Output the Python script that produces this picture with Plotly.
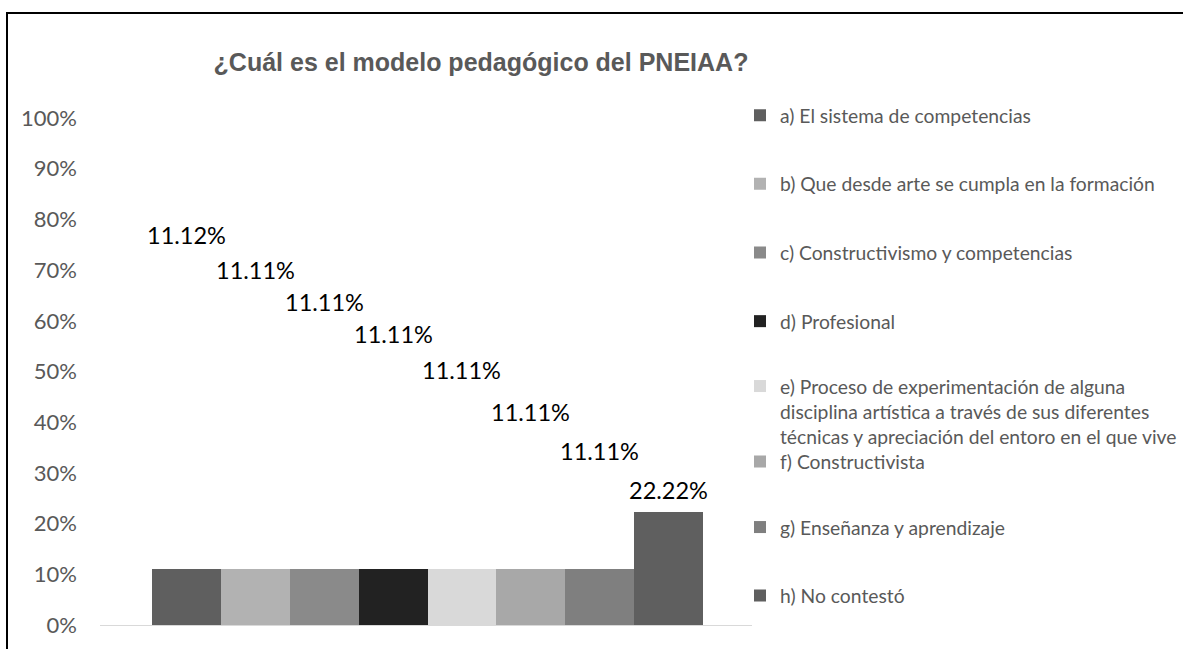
import plotly.graph_objects as go

# ---- data ----
categories = [
    "a) El sistema de competencias",
    "b) Que desde arte se cumpla en la formación",
    "c) Constructivismo y competencias",
    "d) Profesional",
    "e) Proceso de experimentación de alguna<br>disciplina artística a través de sus diferentes<br>técnicas y apreciación del entoro en el que vive",
    "f) Constructivista",
    "g) Enseñanza y aprendizaje",
    "h) No contestó",
]
values = [11.12, 11.11, 11.11, 11.11, 11.11, 11.11, 11.11, 22.22]
y_ticks = [0, 10, 20, 30, 40, 50, 60, 70, 80, 90, 100]

# ---- styling / positions ----
colors = ["#5f5f5f", "#b2b2b2", "#8a8a8a", "#222222", "#d9d9d9", "#a8a8a8", "#7f7f7f", "#5f5f5f"]
label_y = [76.9, 70.0, 63.7, 57.4, 50.3, 42.0, 34.3, 26.6]   # data-label heights (%), as placed in the original
legend_py = [115.7, 184.3, 253, 321.6, 382, 462, 527.5, 596]  # legend item centres in px

W, H = 1183, 649
L, R, T, B = 100, 752, 118, 625


def px_x(px):
    return (px - L) / (R - L)


def px_y(py):
    return (B - py) / (B - T)


fig = go.Figure()
layout_legends = {}
for i, (cat, v, c) in enumerate(zip(categories, values, colors)):
    key = "legend" if i == 0 else f"legend{i + 1}"
    fig.add_trace(go.Bar(
        x=[i], y=[v], width=1, name=cat, marker=dict(color=c, line=dict(width=0)),
        legend=key, showlegend=True, hoverinfo="name+y",
    ))
    multiline = "<br>" in cat
    layout_legends[key] = dict(
        x=px_x(740), xanchor="left",
        y=px_y(legend_py[i] - (15 if multiline else 0)),
        yanchor="top" if multiline else "middle",
        valign="top",
        bgcolor="rgba(0,0,0,0)",
        font=dict(family="Lato", size=19.3, color="#595959"),
        itemwidth=30,
    )
    fig.add_annotation(
        x=i, y=label_y[i], xref="x", yref="y",
        text=f"{v:.2f}%", showarrow=False,
        font=dict(family="Lato", size=23.5, color="#000000"),
        xanchor="center", yanchor="middle",
    )

fig.update_layout(
    width=W, height=H,
    margin=dict(l=L, r=W - R, t=T, b=H - B, autoexpand=False),
    paper_bgcolor="white", plot_bgcolor="white",
    barmode="overlay", bargap=0,
    title=dict(
        text="¿Cuál es el modelo pedagógico del PNEIAA?",
        font=dict(family="Liberation Sans", size=25, color="#595959", weight="bold"),
        x=px_x(481), xref="paper", xanchor="center",
        y=1 - 62 / H, yref="container", yanchor="middle",
    ),
    xaxis=dict(
        range=[-1.255, 8.21], showticklabels=False, ticks="", showgrid=False,
        zeroline=False, showline=True, linecolor="#d9d9d9", linewidth=1,
        fixedrange=True,
    ),
    yaxis=dict(
        range=[0, 100], tickvals=y_ticks, ticktext=[f"{t}%" for t in y_ticks],
        showgrid=False, zeroline=False, showline=False, ticks="",
        ticklabelstandoff=22,
        tickfont=dict(family="Lato", size=22, color="#595959"),
        fixedrange=True,
    ),
    shapes=[dict(
        type="rect", xref="paper", yref="paper",
        x0=px_x(7), x1=px_x(1200), y0=px_y(670), y1=px_y(13),
        line=dict(color="#000000", width=2), fillcolor="rgba(0,0,0,0)", layer="above",
    )],
    **layout_legends,
)

fig.write_html(
    "out.html",
    config={"displayModeBar": False},
    post_script="document.body.style.margin='0px';document.body.style.overflow='hidden';",
)
